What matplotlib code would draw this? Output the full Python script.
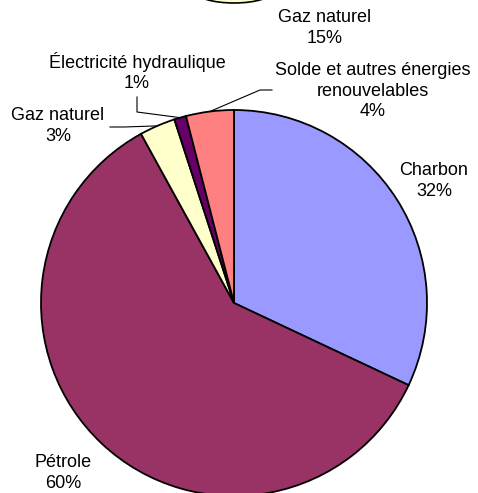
import matplotlib
matplotlib.use("Agg")
import matplotlib.pyplot as plt
from matplotlib.patches import Ellipse
import numpy as np

categories = ["Charbon", "Pétrole", "Gaz naturel", "Électricité hydraulique",
              "Solde et autres énergies\nrenouvelables"]
values = [32, 60, 3, 1, 4]
colors = ["#9999FF", "#993366", "#FFFFCC", "#660066", "#FF8080"]

W, H = 478, 493
fig = plt.figure(figsize=(W / 100, H / 100), dpi=100)
ax = fig.add_axes([0, 0, 1, 1])
plt.rcParams['font.family'] = ['Liberation Sans', 'DejaVu Sans']

cx, cy, r = 234, H - 303, 193
wedges, _ = ax.pie(values, colors=colors, startangle=90, counterclock=False,
                   center=(cx, cy), radius=r,
                   wedgeprops=dict(edgecolor="black", linewidth=1.3))
ax.set_xlim(0, W)
ax.set_ylim(0, H)
ax.set_aspect("auto")
ax.axis("off")

# partial ellipse of the adjacent chart at the top
ax.add_patch(Ellipse((234, H + 9), 78, 24, facecolor="#FFFFCC",
                     edgecolor="black", linewidth=1.2))

fs = 13
def lab(x, y, s):
    ax.text(x, H - y, s, ha="center", va="center", fontsize=fs,
            linespacing=1.3, color="black")

def edge_pt(i):
    w = wedges[i]
    a = np.deg2rad((w.theta1 + w.theta2) / 2)
    return cx + r * np.cos(a), cy + r * np.sin(a)

lab(325, 28, "Gaz naturel\n15%")
lab(434, 181, f"Charbon\n{values[0]}%")
lab(63, 473, f"Pétrole\n{values[1]}%")
lab(58, 126, f"Gaz naturel\n{values[2]}%")
lab(137, 72, f"Électricité hydraulique\n{values[3]}%")
lab(373, 91, f"{categories[4]}\n{values[4]}%")

lw = 0.8
# Gaz naturel leader
x0, y0 = edge_pt(2)
ax.plot([110, 124, x0], [H - 127, H - 127, y0], color="black", lw=lw)
# Électricité leader
x0, y0 = edge_pt(3)
ax.plot([137, 137, x0], [H - 97, H - 112, y0], color="black", lw=lw)
# Solde leader
x0, y0 = edge_pt(4)
ax.plot([x0, 260, 272], [y0, H - 90, H - 90], color="black", lw=lw)

fig.savefig("out.png", dpi=100)
